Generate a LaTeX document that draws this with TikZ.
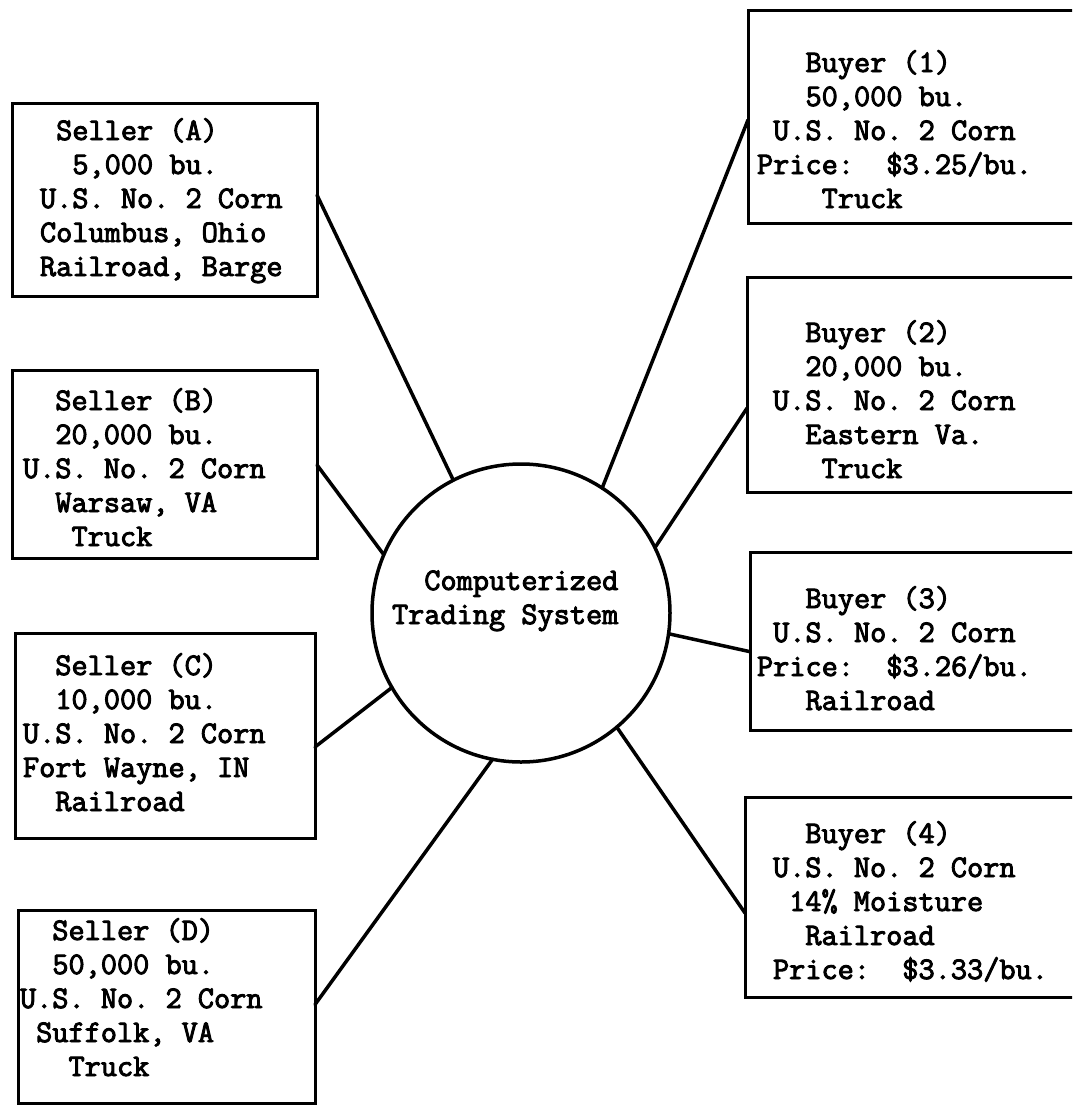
\documentclass[tikz,border=0pt]{standalone}
\usepackage{fontspec}
\setmonofont[FakeBold=3]{Latin Modern Mono}
\usetikzlibrary{calc}
\tikzset{
  box/.style={draw, line width=3pt, rectangle, inner sep=0pt, outer sep=0pt},
  hub/.style={draw, line width=3.5pt, circle, inner sep=0pt, outer sep=0pt, minimum size=298pt},
  txt/.style={anchor=base west, inner sep=0pt, outer sep=0pt,
    font=\ttfamily\fontsize{31.4}{34}\selectfont},
  conn/.style={line width=3.5pt, line cap=round, line join=round}
}
\begin{document}
\begin{tikzpicture}[x=1pt,y=-1pt]
\useasboundingbox (0,0) rectangle (1072,1106);
\clip (0,0) rectangle (1072,1106);
\fill[white] (0,0) rectangle (1072,1106);

% sellers
\node[box, minimum width=305, minimum height=193] (sA) at (164.5,199.5) {};
\node[box, minimum width=305, minimum height=188] (sB) at (164.5,464) {};
\node[box, minimum width=300, minimum height=205] (sC) at (165,735.5) {};
\node[box, minimum width=297, minimum height=193] (sD) at (166.5,1006.5) {};
% buyers
\node[box, minimum width=342, minimum height=213] (b1) at (919,116.5) {};
\node[box, minimum width=343, minimum height=215] (b2) at (918.5,384.5) {};
\node[box, minimum width=340, minimum height=178] (b3) at (920,641) {};
\node[box, minimum width=345, minimum height=200] (b4) at (917.5,897) {};
% hub
\node[hub] (cts) at (521,613) {};

% texts
\node[txt] (tA) at (40,140) {\vtop{\hbox{\ Seller (A)}\hbox{\ \ 5,000 bu.}\hbox{U.S. No. 2 Corn}\hbox{Columbus, Ohio}\hbox{Railroad, Barge}}};
\node[txt] (tB) at (23,410) {\vtop{\hbox{\ \ Seller (B)}\hbox{\ \ 20,000 bu.}\hbox{U.S. No. 2 Corn}\hbox{\ \ Warsaw, VA}\hbox{\ \ \ Truck}}};
\node[txt] (tC) at (23,675) {\vtop{\hbox{\ \ Seller (C)}\hbox{\ \ 10,000 bu.}\hbox{U.S. No. 2 Corn}\hbox{Fort Wayne, IN}\hbox{\ \ Railroad}}};
\node[txt] (tD) at (20,940) {\vtop{\hbox{\ \ Seller (D)}\hbox{\ \ 50,000 bu.}\hbox{U.S. No. 2 Corn}\hbox{\ Suffolk, VA}\hbox{\ \ \ Truck}}};
\node[txt] (t1) at (757,72) {\vtop{\hbox{\ \ \ Buyer (1)}\hbox{\ \ \ 50,000 bu.}\hbox{\ U.S. No. 2 Corn}\hbox{Price:\ \ \$3.25/bu.}\hbox{\ \ \ \ Truck}}};
\node[txt] (t2) at (773,342) {\vtop{\hbox{\ \ Buyer (2)}\hbox{\ \ 20,000 bu.}\hbox{U.S. No. 2 Corn}\hbox{\ \ Eastern Va.}\hbox{\ \ \ Truck}}};
\node[txt] (t3) at (757,608) {\vtop{\hbox{\ \ \ Buyer (3)}\hbox{\ U.S. No. 2 Corn}\hbox{Price:\ \ \$3.26/bu.}\hbox{\ \ \ Railroad}}};
\node[txt] (t4) at (773,843) {\vtop{\hbox{\ \ Buyer (4)}\hbox{U.S. No. 2 Corn}\hbox{\ 14\% Moisture}\hbox{\ \ Railroad}\hbox{Price:\ \ \$3.33/bu.}}};
\node[txt] (tc) at (392,590) {\vtop{\hbox{\ \ Computerized}\hbox{Trading System}}};

% connectors
\draw[conn] ($(sA.north east)!0.477!(sA.south east)$) -- (cts.117.8);
\draw[conn] ($(sB.north east)!0.505!(sB.south east)$) -- (cts.157.6);
\draw[conn] ($(sC.north east)!0.556!(sC.south east)$) -- (cts.210.4);
\draw[conn] ($(sD.north east)!0.49!(sD.south east)$) -- (cts.259);
\draw[conn] ($(b1.north west)!0.516!(b1.south west)$) -- (cts.57.4);
\draw[conn] ($(b2.north west)!0.61!(b2.south west)$) -- (cts.26.9);
\draw[conn] ($(b3.north west)!0.56!(b3.south west)$) -- (cts.-8.4);
\draw[conn] ($(b4.north west)!0.58!(b4.south west)$) -- (cts.-50.2);
\end{tikzpicture}
\end{document}
